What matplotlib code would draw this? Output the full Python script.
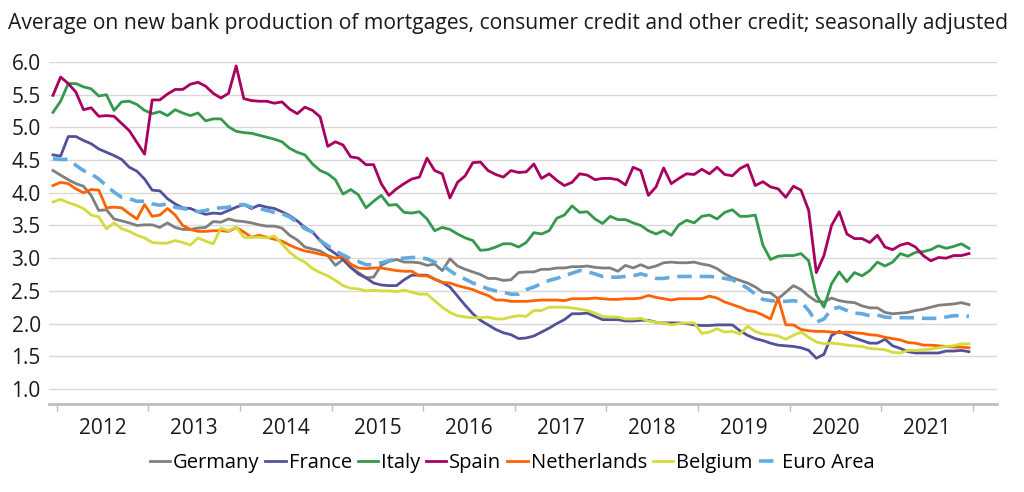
import matplotlib
matplotlib.use("Agg")
import matplotlib.pyplot as plt
import numpy as np

plt.rcParams['font.family'] = ['Open Sans', 'DejaVu Sans']

# monthly data, Dec 2011 .. Dec 2021 (121 points)
years = [str(y) for y in range(2012, 2022)]

germany = [4.34, 4.27, 4.20, 4.14, 4.10, 3.96, 3.73, 3.74, 3.60, 3.57,
           3.54, 3.50, 3.51, 3.51, 3.47, 3.54, 3.47, 3.44, 3.44, 3.46,
           3.47, 3.56, 3.55, 3.60, 3.57, 3.56, 3.54, 3.51, 3.49, 3.49,
           3.46, 3.35, 3.28, 3.17, 3.14, 3.11, 3.04, 2.89, 2.98, 2.86,
           2.78, 2.70, 2.71, 2.89, 2.95, 2.98, 2.94, 2.94, 2.93, 2.89,
           2.91, 2.81, 2.99, 2.88, 2.83, 2.79, 2.75, 2.69, 2.69, 2.66,
           2.67,
           2.78, 2.79, 2.79, 2.83, 2.83, 2.85, 2.85, 2.87, 2.87, 2.88,
           2.86, 2.85, 2.85, 2.80, 2.89, 2.85, 2.90, 2.85, 2.88, 2.93,
           2.94, 2.93, 2.93, 2.94, 2.91, 2.89, 2.84, 2.76, 2.70, 2.66,
           2.62,
           2.56, 2.48, 2.47, 2.38, 2.48, 2.58, 2.52, 2.42, 2.34, 2.33,
           2.39, 2.35, 2.33, 2.32, 2.27, 2.24, 2.24, 2.17, 2.15, 2.16,
           2.17, 2.20, 2.22, 2.25, 2.28, 2.29, 2.30, 2.32, 2.29]

france = [4.58, 4.56, 4.86, 4.86, 4.80, 4.75, 4.67, 4.62, 4.57, 4.51,
          4.39, 4.33, 4.21, 4.04, 4.03, 3.91, 3.83, 3.77, 3.76, 3.71,
          3.67, 3.69, 3.68, 3.73, 3.78, 3.82, 3.76, 3.81, 3.78, 3.76,
          3.71, 3.65, 3.57, 3.47, 3.40, 3.27, 3.15, 3.07, 2.98, 2.86,
          2.76, 2.70, 2.62, 2.59, 2.58, 2.58, 2.67, 2.74, 2.74, 2.74,
          2.68, 2.63, 2.56, 2.42, 2.28, 2.15, 2.05, 1.98, 1.91, 1.86,
          1.83,
          1.77, 1.78, 1.81, 1.87, 1.93, 2.00, 2.06, 2.15, 2.15, 2.16,
          2.11, 2.06, 2.06, 2.06, 2.04, 2.04, 2.05, 2.05, 2.02, 2.01,
          2.01, 2.01, 2.00, 1.98, 1.97, 1.97, 1.98, 1.98, 1.98, 1.89,
          1.82,
          1.77, 1.74, 1.70, 1.67, 1.66, 1.65, 1.63, 1.59, 1.47, 1.53,
          1.82, 1.88, 1.83, 1.78, 1.74, 1.70, 1.70, 1.76, 1.66, 1.62,
          1.57, 1.55, 1.55, 1.55, 1.55, 1.58, 1.58, 1.59, 1.57]

italy = [5.23, 5.40, 5.67, 5.67, 5.62, 5.59, 5.48, 5.50, 5.26, 5.39,
         5.40, 5.35, 5.26, 5.21, 5.24, 5.18, 5.27, 5.22, 5.18, 5.22,
         5.10, 5.13, 5.13, 5.01, 4.94, 4.92, 4.91, 4.88, 4.85, 4.82,
         4.78, 4.68, 4.62, 4.58, 4.44, 4.34, 4.29, 4.20, 3.98, 4.05,
         3.97, 3.77, 3.87, 3.96, 3.81, 3.82, 3.70, 3.69, 3.71, 3.60,
         3.42, 3.47, 3.44, 3.37, 3.31, 3.27, 3.12, 3.13, 3.17, 3.22,
         3.22,
         3.17, 3.24, 3.39, 3.37, 3.42, 3.61, 3.66, 3.80, 3.70, 3.71,
         3.60, 3.53, 3.64, 3.59, 3.59, 3.54, 3.50, 3.42, 3.37, 3.42,
         3.35, 3.51, 3.58, 3.54, 3.64, 3.66, 3.60, 3.70, 3.74, 3.64,
         3.64,
         3.66, 3.20, 2.98, 3.03, 3.04, 3.04, 3.07, 2.96, 2.44, 2.25,
         2.61, 2.79, 2.64, 2.78, 2.73, 2.81, 2.94, 2.88, 2.94, 3.07,
         3.03, 3.09, 3.10, 3.13, 3.19, 3.15, 3.18, 3.22, 3.15]

spain = [5.49, 5.77, 5.67, 5.54, 5.27, 5.30, 5.17, 5.18, 5.17, 5.06,
         4.95, 4.77, 4.59, 5.42, 5.42, 5.51, 5.58, 5.58, 5.66, 5.69,
         5.63, 5.52, 5.45, 5.52, 5.94, 5.44, 5.41, 5.40, 5.40, 5.37,
         5.39, 5.28, 5.21, 5.31, 5.26, 5.16, 4.71, 4.78, 4.73, 4.55,
         4.53, 4.43, 4.43, 4.14, 3.96, 4.06, 4.14, 4.21, 4.24, 4.53,
         4.34, 4.29, 3.92, 4.16, 4.26, 4.46, 4.47, 4.34, 4.28, 4.24,
         4.34,
         4.31, 4.32, 4.44, 4.22, 4.29, 4.19, 4.11, 4.16, 4.29, 4.27,
         4.20, 4.22, 4.22, 4.20, 4.12, 4.39, 4.34, 3.96, 4.09, 4.38,
         4.14, 4.22, 4.29, 4.28, 4.36, 4.29, 4.39, 4.28, 4.26, 4.37,
         4.43,
         4.11, 4.17, 4.09, 4.06, 3.93, 4.10, 4.04, 3.73, 2.78, 3.04,
         3.50, 3.71, 3.37, 3.30, 3.30, 3.24, 3.35, 3.17, 3.13, 3.20,
         3.23, 3.17, 3.04, 2.96, 3.01, 3.00, 3.04, 3.04, 3.07]

netherlands = [4.11, 4.16, 4.14, 4.06, 4.00, 4.05, 4.04, 3.77, 3.78, 3.77,
               3.68, 3.60, 3.82, 3.64, 3.66, 3.76, 3.66, 3.50, 3.44, 3.41,
               3.41, 3.42, 3.42, 3.41, 3.47, 3.40, 3.32, 3.35, 3.32, 3.29,
               3.26, 3.20, 3.15, 3.11, 3.09, 3.06, 3.04, 3.00, 3.03, 2.91,
               2.85, 2.84, 2.85, 2.85, 2.83, 2.81, 2.80, 2.80, 2.73, 2.73,
               2.68, 2.63, 2.62, 2.58, 2.55, 2.52, 2.47, 2.43, 2.36, 2.36,
               2.34,
               2.34, 2.34, 2.35, 2.36, 2.36, 2.36, 2.35, 2.38, 2.38, 2.38,
               2.39, 2.38, 2.37, 2.37, 2.38, 2.38, 2.39, 2.43, 2.40, 2.38,
               2.36, 2.38, 2.38, 2.38, 2.38, 2.42, 2.39, 2.33, 2.29, 2.25,
               2.20,
               2.18, 2.13, 2.07, 2.39, 1.98, 1.98, 1.91, 1.89, 1.88, 1.88,
               1.87, 1.86, 1.87, 1.86, 1.85, 1.83, 1.82, 1.79, 1.77, 1.75,
               1.71, 1.70, 1.67, 1.67, 1.66, 1.65, 1.64, 1.64, 1.63]

belgium = [3.86, 3.90, 3.85, 3.81, 3.76, 3.66, 3.63, 3.45, 3.54, 3.45,
           3.41, 3.35, 3.31, 3.24, 3.23, 3.23, 3.27, 3.24, 3.20, 3.31,
           3.26, 3.22, 3.46, 3.42, 3.48, 3.32, 3.32, 3.32, 3.31, 3.34,
           3.22, 3.09, 3.00, 2.94, 2.84, 2.78, 2.73, 2.66, 2.58, 2.54,
           2.53, 2.50, 2.51, 2.50, 2.50, 2.49, 2.51, 2.48, 2.45, 2.45,
           2.35, 2.25, 2.17, 2.12, 2.10, 2.09, 2.09, 2.10, 2.07, 2.07,
           2.10,
           2.12, 2.11, 2.20, 2.20, 2.25, 2.25, 2.25, 2.24, 2.22, 2.20,
           2.16, 2.11, 2.10, 2.10, 2.07, 2.07, 2.08, 2.04, 2.02, 2.01,
           1.98, 2.00, 2.01, 2.01, 1.85, 1.87, 1.92, 1.87, 1.88, 1.84,
           1.96,
           1.88, 1.84, 1.83, 1.81, 1.76, 1.82, 1.87, 1.79, 1.72, 1.69,
           1.70, 1.69, 1.67, 1.66, 1.65, 1.62, 1.61, 1.60, 1.56, 1.55,
           1.59, 1.59, 1.60, 1.61, 1.63, 1.65, 1.66, 1.69, 1.69]

euro_area = [4.52, 4.51, 4.51, 4.42, 4.34, 4.29, 4.21, 4.11, 4.01, 3.93,
             3.91, 3.87, 3.87, 3.83, 3.81, 3.83, 3.78, 3.76, 3.74, 3.71,
             3.73, 3.76, 3.77, 3.78, 3.81, 3.82, 3.78, 3.76, 3.73, 3.70,
             3.68, 3.63, 3.55, 3.45, 3.40, 3.27, 3.19, 3.11, 3.05, 2.99,
             2.95, 2.90, 2.90, 2.93, 2.96, 2.99, 3.00, 3.01, 3.01, 2.99,
             2.94, 2.89, 2.81, 2.73, 2.68, 2.62, 2.58, 2.53, 2.50, 2.48,
             2.45,
             2.45, 2.52, 2.56, 2.61, 2.66, 2.69, 2.73, 2.77, 2.81, 2.79,
             2.76, 2.72, 2.71, 2.71, 2.72, 2.73, 2.76, 2.73, 2.69, 2.69,
             2.71, 2.72, 2.72, 2.72, 2.72, 2.72, 2.71, 2.69, 2.67, 2.61,
             2.54,
             2.45, 2.37, 2.35, 2.34, 2.34, 2.35, 2.33, 2.20, 2.02, 2.07,
             2.22, 2.25, 2.20, 2.16, 2.15, 2.12, 2.13, 2.10, 2.09, 2.09,
             2.09, 2.09, 2.08, 2.08, 2.08, 2.10, 2.12, 2.12, 2.11]

series = [
    ("Germany", germany, "#7f7f7f", "-"),
    ("France", france, "#525199", "-"),
    ("Italy", italy, "#34994c", "-"),
    ("Spain", spain, "#a8005e", "-"),
    ("Netherlands", netherlands, "#ff6200", "-"),
    ("Belgium", belgium, "#d2dc3c", "-"),
    ("Euro Area", euro_area, "#62aae0", (0, (4, 2.2))),
]

fig = plt.figure(figsize=(10.24, 4.92), dpi=100)
ax = fig.add_axes([49 / 1024, 1 - 404 / 492, 948 / 1024, 342 / 492])

x = np.arange(len(germany))
for name, vals, color, ls in series:
    ax.plot(x, vals, color=color, lw=2.0 if name != "Euro Area" else 2.6,
            linestyle=ls, label=name, clip_on=False,
            solid_joinstyle="round")

ax.set_ylim(0.77, 6.0)
ax.set_xlim(-0.52, 123.67)
ax.set_yticks(np.arange(1.0, 6.01, 0.5))
ax.set_yticklabels([f"{v:.1f}" for v in np.arange(1.0, 6.01, 0.5)], fontsize=15)
ax.yaxis.grid(True, color="#d9d9d9", lw=1)
ax.set_axisbelow(True)
ax.tick_params(axis="y", length=0, pad=6, colors="#1a1a1a")

# year separators as ticks, labels in between
ax.set_xticks(np.arange(0.5, 121, 12))
ax.set_xticklabels([])
ax.set_xticks(np.arange(6.5, 120, 12), minor=True)
ax.set_xticklabels(years, minor=True, fontsize=15, color="#1a1a1a")
ax.tick_params(axis="x", which="major", length=5, color="#bfbfbf", width=1)
ax.tick_params(axis="x", which="minor", length=0, pad=10)

for s in ["top", "right", "left"]:
    ax.spines[s].set_visible(False)
ax.spines["bottom"].set_color("#bfbfbf")
ax.spines["bottom"].set_linewidth(2)

fig.text(8 / 1024, 1 - 23 / 492,
         "Average on new bank production of mortgages, consumer credit and other credit; seasonally adjusted",
         fontsize=15.2, va="center", ha="left", color="#1a1a1a")

fig.legend(loc="center", bbox_to_anchor=(512 / 1024, 1 - 463 / 492), ncol=7,
           frameon=False, fontsize=14.5, handlelength=1.0, handletextpad=0.15,
           columnspacing=0.3, borderaxespad=0)

fig.savefig("out.png", dpi=100)
